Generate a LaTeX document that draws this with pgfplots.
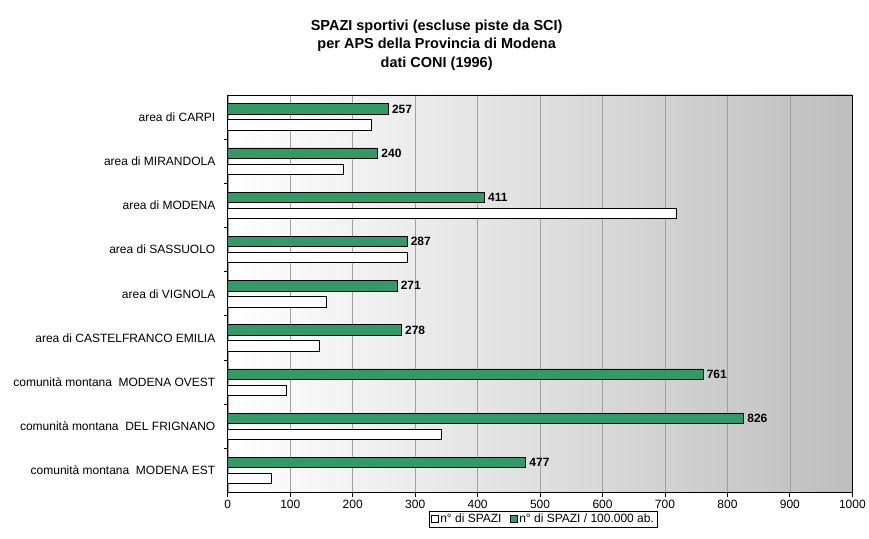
\documentclass[border=0pt]{standalone}
\usepackage{pgfplots}
\pgfplotsset{compat=1.18}
\usepackage{fontspec}
\setmainfont{Liberation Sans}
\definecolor{barGreen}{RGB}{51,153,102}
\definecolor{gridGray}{RGB}{160,160,160}
\definecolor{bgRight}{RGB}{190,190,190}

\begin{document}
\begin{tikzpicture}
\begin{axis}[
    scale only axis,
    width=625pt, height=398pt,
    xbar,
    xmin=0, xmax=1000,
    ymin=-0.5, ymax=8.5,
    y dir=reverse,
    bar width=10.5pt,
    xtick={0,100,...,1000},
    ytick={0,...,8},
    yticklabels={
        area di CARPI,
        area di MIRANDOLA,
        area di MODENA,
        area di SASSUOLO,
        area di VIGNOLA,
        area di CASTELFRANCO EMILIA,
        comunità montana\ \ MODENA OVEST,
        comunità montana\ \ DEL FRIGNANO,
        comunità montana\ \ MODENA EST},
    xtick pos=bottom, ytick pos=left,
    major y tick style={draw=none},
    minor y tick num=1,
    minor tick length=4pt,
    major tick length=4pt,
    tick align=outside,
    tick style={black, line width=0.8pt},
    xmajorgrids,
    major x grid style={gridGray, line width=0.6pt},
    axis line style={black, line width=0.8pt},
    axis background/.style={shade, left color=white, right color=bgRight},
    tick label style={font=\fontsize{12}{13}\selectfont},
    /pgf/number format/assume math mode=true,
    /pgf/number format/1000 sep={},
    yticklabel style={xshift=-5pt},
    legend style={at={(0.505,-0.045)}, anchor=north, legend columns=2,
        draw=black, line width=0.6pt, font=\fontsize{12}{13}\selectfont,
        inner sep=1pt, /tikz/every even column/.append style={column sep=6pt}},
    legend image code/.code={\draw[#1, line width=0.6pt] (0pt,-3.6pt) rectangle (7.2pt,3.6pt);},
    clip=false,
]
\addplot[draw=black, line width=0.8pt, fill=white, bar shift=-8pt]
    coordinates {(230,0) (185,1) (718,2) (287,3) (158,4) (147,5) (94,6) (342,7) (70,8)};
\addlegendentry{n° di SPAZI}
\addplot[draw=black, line width=0.8pt, fill=barGreen, bar shift=8pt,
    nodes near coords, nodes near coords align={horizontal},
    every node near coord/.append style={font=\bfseries\fontsize{12}{13}\selectfont, black, xshift=0pt}]
    coordinates {(257,0) (240,1) (411,2) (287,3) (271,4) (278,5) (761,6) (826,7) (477,8)};
\addlegendentry{n° di SPAZI / 100.000 ab.}
\end{axis}
\node[font=\bfseries\fontsize{14.5}{18.5}\selectfont, align=center] at (209pt,448pt)
    {SPAZI sportivi (escluse piste da SCI)\\per APS della Provincia di Modena\\dati CONI (1996)};
\path (-228pt,-46pt) rectangle (641pt,493pt);
\end{tikzpicture}
\end{document}
